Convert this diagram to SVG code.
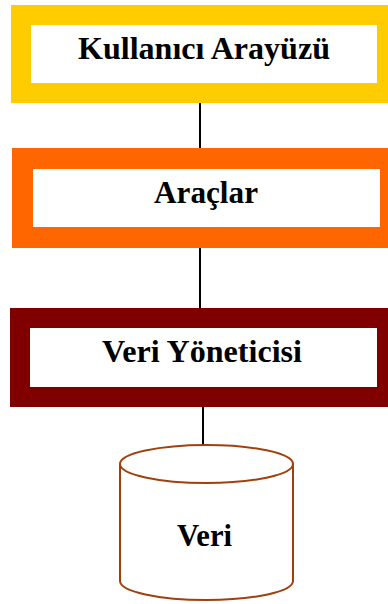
<svg xmlns="http://www.w3.org/2000/svg" width="388" height="604" viewBox="0 0 388 604">
  <style>
    .frame { fill: #ffffff; }
    .label { font-family: "Liberation Serif", "Times New Roman", serif; font-weight: bold; font-size: 32px; fill: #000000; text-anchor: middle; }
    .link { stroke: #000000; stroke-width: 2; fill: none; }
    .db { fill: #ffffff; stroke: #a0410d; stroke-width: 2; }
  </style>

  <g id="connectors">
    <line class="link" x1="200" y1="103" x2="200" y2="148"/>
    <line class="link" x1="200" y1="247" x2="200" y2="308"/>
    <line class="link" x1="203" y1="407" x2="203" y2="446"/>
  </g>

  <g id="kullanici-arayuzu">
    <rect class="frame" x="21" y="15" width="366" height="78" stroke="#ffcc00" stroke-width="20"/>
    <text class="label" x="204" y="59" textLength="252" lengthAdjust="spacingAndGlyphs">Kullanıcı Arayüzü</text>
  </g>

  <g id="araclar">
    <rect class="frame" x="22.5" y="158.5" width="368" height="79" stroke="#ff6600" stroke-width="21"/>
    <text class="label" x="206" y="203" textLength="104" lengthAdjust="spacingAndGlyphs">Araçlar</text>
  </g>

  <g id="veri-yoneticisi">
    <rect class="frame" x="20" y="318" width="367" height="79" stroke="#800000" stroke-width="20"/>
    <text class="label" x="202" y="362" textLength="200" lengthAdjust="spacingAndGlyphs">Veri Yöneticisi</text>
  </g>

  <g id="veri">
    <path class="db" d="M120,464 A86.5,19 0 0 1 293,464 L293,581 A86.5,19 0 0 1 120,581 Z"/>
    <path class="db" d="M120,464 A86.5,19 0 0 0 293,464" fill="none"/>
    <text class="label" x="204.5" y="546" textLength="55" lengthAdjust="spacingAndGlyphs">Veri</text>
  </g>
</svg>
